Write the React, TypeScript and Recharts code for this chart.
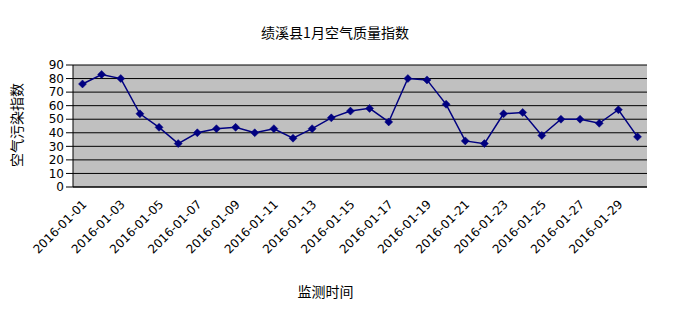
import { LineChart, Line, XAxis, YAxis, CartesianGrid } from 'recharts'

// 绩溪县 2016年1月 每日空气质量指数
const dates = [
  '2016-01-01', '2016-01-02', '2016-01-03', '2016-01-04', '2016-01-05',
  '2016-01-06', '2016-01-07', '2016-01-08', '2016-01-09', '2016-01-10',
  '2016-01-11', '2016-01-12', '2016-01-13', '2016-01-14', '2016-01-15',
  '2016-01-16', '2016-01-17', '2016-01-18', '2016-01-19', '2016-01-20',
  '2016-01-21', '2016-01-22', '2016-01-23', '2016-01-24', '2016-01-25',
  '2016-01-26', '2016-01-27', '2016-01-28', '2016-01-29', '2016-01-30',
]
const aqi = [
  76, 83, 80, 54, 44, 32, 40, 43, 44, 40,
  43, 36, 43, 51, 56, 58, 48, 80, 79, 61,
  34, 32, 54, 55, 38, 50, 50, 47, 57, 37,
]
const yTicks = [0, 10, 20, 30, 40, 50, 60, 70, 80, 90]
const yMinorTicks = [
  0, 2, 4, 6, 8, 10, 12, 14, 16, 18, 20, 22, 24, 26, 28, 30, 32, 34, 36, 38,
  40, 42, 44, 46, 48, 50, 52, 54, 56, 58, 60, 62, 64, 66, 68, 70, 72, 74, 76, 78,
  80, 82, 84, 86, 88, 90,
]

const data = dates.map((date, i) => ({ date, aqi: aqi[i] }))

const NAVY = '#000080'
const TICK_FONT = '"DejaVu Sans", sans-serif'
const CJK_FONT = '"Noto Sans CJK SC", sans-serif'

function Diamond(props: any) {
  const { cx, cy } = props
  if (cx == null || cy == null) return null
  const r = 4
  return (
    <path
      d={`M${cx},${cy - r}L${cx + r},${cy}L${cx},${cy + r}L${cx - r},${cy}Z`}
      fill={NAVY}
      stroke={NAVY}
      strokeWidth={0.5}
    />
  )
}

function DateTick(props: any) {
  const { x, y, payload } = props
  return (
    <g transform={`translate(${x},${y})`}>
      <text
        x={5}
        y={10}
        textAnchor="end"
        transform="rotate(-45, 5, 10)"
        fill="#000"
        fontFamily={TICK_FONT}
        fontSize={12}
      >
        {payload.value}
      </text>
    </g>
  )
}

export default function App() {
  return (
    <div style={{ position: 'absolute', left: 0, top: 0, width: 680, height: 315, background: '#fff' }}>
      <div
        style={{
          position: 'absolute', left: 0, top: 22, width: 670, textAlign: 'center',
          fontFamily: CJK_FONT, fontSize: 14, lineHeight: '20px', color: '#000',
        }}
      >
        绩溪县1月空气质量指数
      </div>
      <div
        style={{
          position: 'absolute', left: 15.5, top: 125, transform: 'translate(-50%, -50%) rotate(-90deg)',
          whiteSpace: 'nowrap', fontFamily: CJK_FONT, fontSize: 14, lineHeight: '16px', color: '#000',
        }}
      >
        空气污染指数
      </div>
      <div
        style={{
          position: 'absolute', left: 325.5, top: 291, transform: 'translate(-50%, -50%)',
          whiteSpace: 'nowrap', fontFamily: CJK_FONT, fontSize: 14, lineHeight: '16px', color: '#000',
        }}
      >
        监测时间
      </div>
      <LineChart
        width={680}
        height={315}
        data={data}
        margin={{ top: 65, right: 33, left: 33, bottom: 0 }}
        style={{ position: 'absolute', left: 0, top: 0 }}
      >
        <CartesianGrid
          vertical={false}
          stroke="#000"
          strokeWidth={1}
          fill="#C0C0C0"
          fillOpacity={1}
        />
        <XAxis
          dataKey="date"
          interval={1}
          height={128}
          padding={{ left: 9.5, right: 9.5 }}
          axisLine={{ stroke: '#000' }}
          tickLine={false}
          tick={<DateTick />}
        />
        <YAxis
          domain={[0, 90]}
          ticks={yTicks}
          interval={0}
          width={40}
          tickSize={7}
          axisLine={{ stroke: '#000' }}
          tickLine={{ stroke: '#000' }}
          tick={{ fill: '#000', fontFamily: TICK_FONT, fontSize: 12 }}
        />
        <YAxis
          yAxisId="minor"
          domain={[0, 90]}
          ticks={yMinorTicks}
          interval={0}
          mirror
          width={0}
          tickSize={3}
          axisLine={false}
          tickLine={{ stroke: '#000' }}
          tickFormatter={() => ''}
        />
        <Line
          type="linear"
          dataKey="aqi"
          stroke={NAVY}
          strokeWidth={1.5}
          dot={<Diamond />}
          activeDot={false}
          isAnimationActive={false}
        />
      </LineChart>
    </div>
  )
}
